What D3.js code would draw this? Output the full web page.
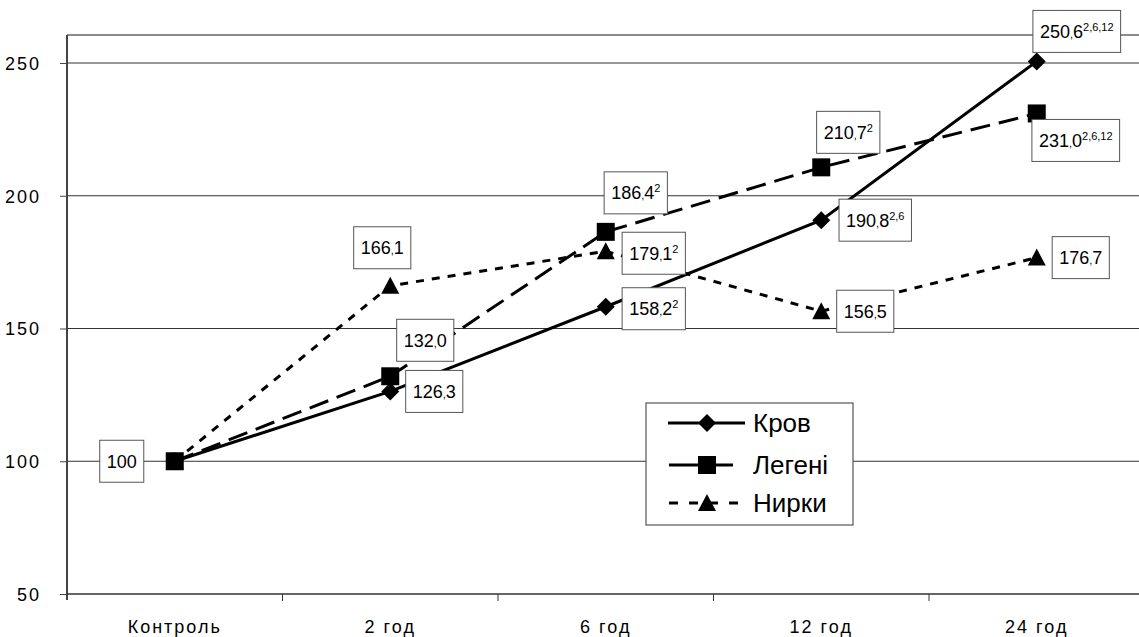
<!DOCTYPE html>
<html><head><meta charset="utf-8">
<script src="https://cdn.jsdelivr.net/npm/d3@7"></script>
<style>
html,body{margin:0;padding:0;background:#fff;}
svg{display:block;font-family:"Liberation Sans",Arial,sans-serif;}
</style></head>
<body>
<svg id="chart" width="1139" height="637"></svg>
<script>
const categories = ["Контроль","2 год","6 год","12 год","24 год"];
const yTicks = [50,100,150,200,250];
const seriesNames = ["Кров","Легені","Нирки"];
const krov   = [100,126.3,158.2,190.8,250.6];
const legeni = [100,132.0,186.4,210.7,231.0];
const nyrky  = [100,166.1,179.1,156.5,176.7];
// label texts (main, superscript) per series, null = no label
const krovLabels   = [["100",""],["126,3",""],["158,2","2"],["190,8","2,6"],["250,6","2,6,12"]];
const legeniLabels = [null,["132,0",""],["186,4","2"],["210,7","2"],["231,0","2,6,12"]];
const nyrkyLabels  = [null,["166,1",""],["179,1","2"],["156,5",""],["176,7",""]];

// layout (label offsets from points, px)
const krovOff   = [[-53,0],[44,0],[48,2],[54,0],[40,-30]];
const legeniOff = [null,[35,-36],[30,-39],[27,-35],[39,27]];
const nyrkyOff  = [null,[-8,-38],[48,2],[44,0],[44,0]];

const svg = d3.select("#chart");
const L = 67, R = 1144.5, T = 35, B = 594;
const x = d3.scaleBand().domain(categories).range([L,R]);
const y = d3.scaleLinear().domain([50,250]).range([B,63]);
const cx = c => x(c) + x.bandwidth()/2;

// gridlines
svg.append("g").selectAll("line").data(yTicks.slice(1)).join("line")
  .attr("x1",L).attr("x2",1139).attr("y1",d=>y(d)).attr("y2",d=>y(d))
  .attr("stroke","#333").attr("stroke-width",1);
// top border
svg.append("line").attr("x1",L).attr("x2",1139).attr("y1",T).attr("y2",T)
  .attr("stroke","#666").attr("stroke-width",1.5);

// y axis
const yAx = svg.append("g").attr("transform",`translate(${L},0)`)
  .call(d3.axisLeft(y).tickValues(yTicks).tickSize(7).tickPadding(19).tickFormat(d3.format("d")));
yAx.select(".domain").remove();
yAx.append("line").attr("x1",0).attr("x2",0).attr("y1",T).attr("y2",B+6).attr("stroke","#444").attr("stroke-width",2);
yAx.selectAll(".tick line").attr("stroke","#444");
yAx.selectAll(".tick text").attr("font-size",18).attr("fill","#000")
  .attr("font-family","Liberation Sans, Arial").style("letter-spacing","2px").attr("dy","0.36em");

// x axis
const xAx = svg.append("g").attr("transform",`translate(0,${B})`);
xAx.append("line").attr("x1",L).attr("x2",1139).attr("stroke","#333").attr("stroke-width",1.5);
xAx.selectAll("line.tk").data(categories).join("line").attr("class","tk")
  .attr("x1",d=>x(d)+x.bandwidth()).attr("x2",d=>x(d)+x.bandwidth()).attr("y1",0).attr("y2",7)
  .attr("stroke","#333");
xAx.selectAll("text").data(categories).join("text")
  .attr("x",d=>cx(d)).attr("y",39).attr("text-anchor","middle")
  .attr("font-size",18).style("letter-spacing","2px").text(d=>d);

const line = d3.line().x((d,i)=>cx(categories[i])).y(d=>y(d));

const series = [
  {vals:krov, dash:null, w:3, marker:"diamond"},
  {vals:legeni, dash:"20,9", w:3, marker:"square"},
  {vals:nyrky, dash:"8,8", w:3, marker:"triangle"}
];
const markerPath = {
  diamond: "M0,-9L9,0L0,9L-9,0Z",
  square: "M-9,-9H9V9H-9Z",
  triangle: "M0,-9L9,8H-9Z"
};
// lines
series.forEach(s=>{
  svg.append("path").datum(s.vals).attr("d",line).attr("fill","none")
    .attr("stroke","#000").attr("stroke-width",s.w)
    .attr("stroke-dasharray",s.dash);
});
// markers
series.forEach(s=>{
  svg.append("g").selectAll("path").data(s.vals).join("path")
    .attr("transform",(d,i)=>`translate(${cx(categories[i])},${y(d)})`)
    .attr("d",markerPath[s.marker]).attr("fill","#000");
});

// labels
function addLabel(px,py,lab){
  const g = svg.append("g").attr("transform",`translate(${px},${py})`);
  const rect = g.append("rect");
  const t = g.append("text").attr("font-size",18).attr("y",6.5).attr("text-anchor","start");
  const parts = lab[0].split(",");
  t.append("tspan").text(parts[0]);
  if(parts.length>1){
    t.append("tspan").attr("font-size",11).text(",");
    t.append("tspan").text(parts[1]);
  }
  if(lab[1]) t.append("tspan").attr("font-size",11).attr("dy",-7).text(lab[1]);
  const bb = t.node().getBBox();
  const w = bb.width + 14;
  t.attr("x",-bb.width/2);
  rect.attr("x",-w/2).attr("y",-21).attr("width",w).attr("height",42)
    .attr("fill","#fff").attr("stroke","#555").attr("stroke-width",1);
}
[[krov,krovLabels,krovOff],[legeni,legeniLabels,legeniOff],[nyrky,nyrkyLabels,nyrkyOff]].forEach(([v,labs,offs])=>{
  v.forEach((d,i)=>{
    if(!labs[i]) return;
    addLabel(cx(categories[i])+offs[i][0], y(d)+offs[i][1], labs[i]);
  });
});

// legend
const lg = svg.append("g");
lg.append("rect").attr("x",646).attr("y",403).attr("width",207).attr("height",122)
  .attr("fill","#fff").attr("stroke","#555").attr("stroke-width",1.2);
const rows = [423,465,503];
const legLines = [[668,745,null],[669,733,null],[669,741,"9,11"]];
series.forEach((s,i)=>{
  lg.append("line").attr("x1",legLines[i][0]).attr("x2",legLines[i][1]).attr("y1",rows[i]).attr("y2",rows[i])
    .attr("stroke","#000").attr("stroke-width",s.w).attr("stroke-dasharray",legLines[i][2]);
  lg.append("path").attr("transform",`translate(707,${rows[i]})`).attr("d",markerPath[s.marker]).attr("fill","#000");
  lg.append("text").attr("x",753).attr("y",rows[i]+9).attr("font-size",26).text(seriesNames[i]);
});
</script>
</body></html>
